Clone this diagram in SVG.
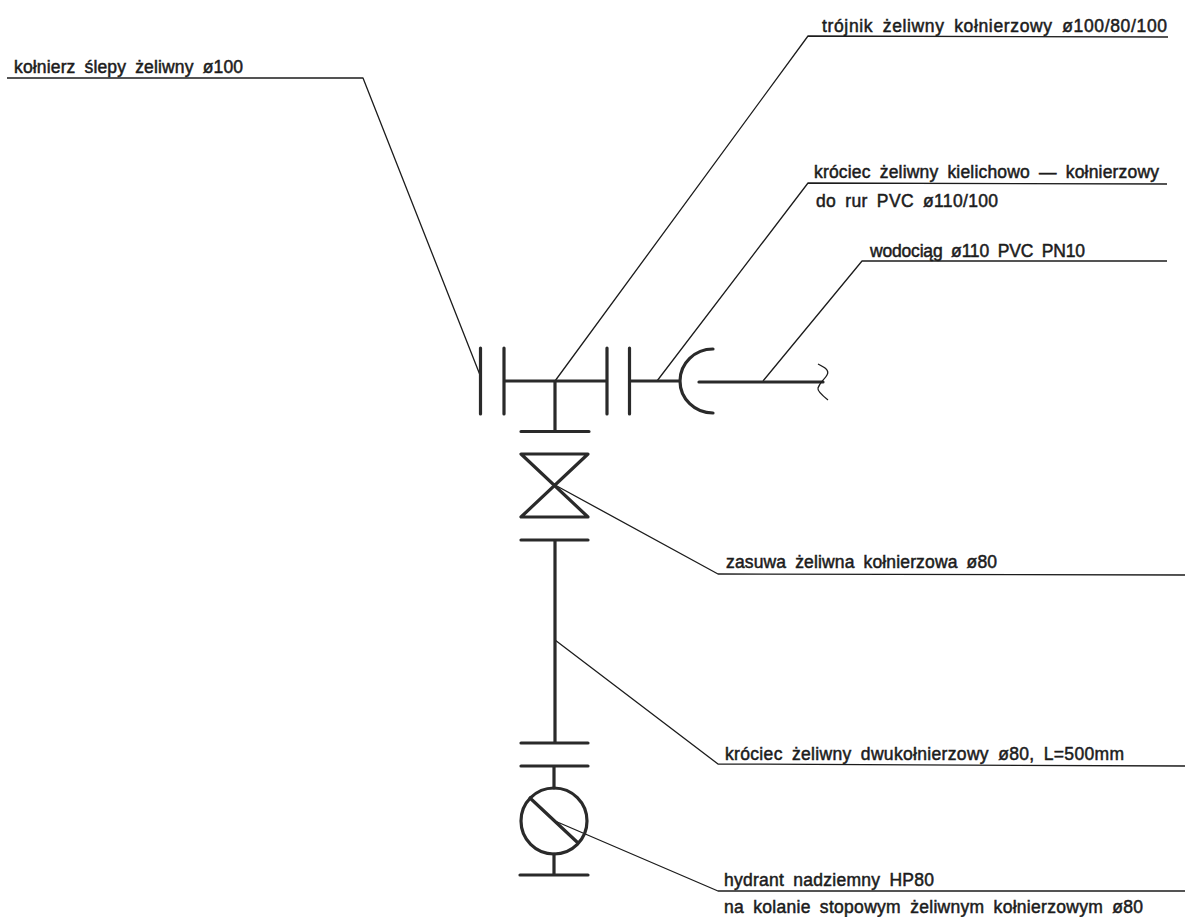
<svg xmlns="http://www.w3.org/2000/svg" width="1185" height="917" viewBox="0 0 1185 917">
<style>
.p{fill:none;stroke:#2a2a2a;stroke-width:3.2;stroke-linecap:round;stroke-linejoin:round}
.l{fill:none;stroke:#1c1c1c;stroke-width:1.3;stroke-linejoin:round}
.t{font-family:"Liberation Sans",Arial,sans-serif;font-size:17.500px;fill:#1c1c1c;stroke:#1c1c1c;stroke-width:.5;word-spacing:4px}
</style>
<rect width="1185" height="917" fill="#fff"/>
<g id="connectors">
<path class="l" d="M7 78H363L480 375"/>
<path class="l" d="M555 381L808 36L1168 37"/>
<path class="l" d="M657 381L808 183L1167 184"/>
<path class="l" d="M763 381L862 261H1167"/>
<path class="l" d="M555 485L718 574L1185 575"/>
<path class="l" d="M555 640L718 764L1185 766"/>
<path class="l" d="M555 821L718 891H1185"/>
</g>
<g id="blind-flange"><path class="p" d="M480.500 348V414"/>
<text class="t" x="14" y="73" textLength="229">kołnierz ślepy żeliwny ø100</text></g>
<g id="tee"><path class="p" d="M504 348V414M504 381H607M607 348V414M555 381V431M521 431.500H589"/>
<text class="t" x="822" y="32" textLength="345">trójnik żeliwny kołnierzowy ø100/80/100</text></g>
<g id="socket-spigot"><path class="p" d="M629.500 348V414M629.500 381H680M713 349A33 32 0 0 0 713 413"/>
<text class="t" x="814" y="178" textLength="345">króciec żeliwny kielichowo — kołnierzowy</text>
<text class="t" x="816" y="207" textLength="182">do rur PVC ø110/100</text></g>
<g id="pipe"><path class="p" d="M699 382H823"/>
<path class="l" d="M818 364C824 367 830 370 827 375C825 379 820 382 818 388C817 391 823 396 828 400"/>
<text class="t" x="870" y="257" textLength="215">wodociąg ø110 PVC PN10</text></g>
<g id="valve"><path class="p" d="M521 454H588L521 517H588Z"/>
<text class="t" x="726" y="568" textLength="271">zasuwa żeliwna kołnierzowa ø80</text></g>
<g id="double-flange"><path class="p" d="M521 540H588M555 540V743M521 743H588"/>
<text class="t" x="725" y="760" textLength="399">króciec żeliwny dwukołnierzowy ø80, L=500mm</text></g>
<g id="hydrant"><path class="p" d="M521 766H588M554 766V788M554 854V875M520 875H588M530 798L577 842"/>
<circle class="p" cx="554" cy="821" r="33"/>
<text class="t" x="724" y="886" textLength="210">hydrant nadziemny HP80</text>
<text class="t" x="724" y="913" textLength="419">na kolanie stopowym żeliwnym kołnierzowym ø80</text></g>
</svg>
